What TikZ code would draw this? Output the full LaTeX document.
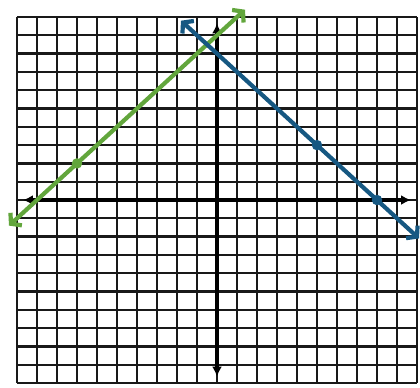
\documentclass[tikz,border=0pt]{standalone}
\usetikzlibrary{arrows.meta}
\definecolor{lgreen}{RGB}{98,166,60}
\definecolor{lblue}{RGB}{22,88,130}
\begin{document}
\begin{tikzpicture}[x=20pt,y=18.3pt,
  gridline/.style={line width=2.3pt, black!90},
  axisline/.style={line width=3.6pt, black, {Latex[length=10pt,width=10pt]}-{Latex[length=10pt,width=10pt]}},
  graphline/.style={line width=4.2pt, line cap=round, {Straight Barb[length=7pt,width=17pt]}-{Straight Barb[length=7pt,width=17pt]}},
  ptdot/.style={circle, fill, inner sep=0pt, minimum size=10.5pt}]
\useasboundingbox (-10.85,-10.22) rectangle (10.15,10.93);
\fill[white] (-10.85,-10.22) rectangle (10.15,10.93);
\foreach \i in {-10,...,10} {
  \draw[gridline] (\i,-10) -- (\i,10);
  \draw[gridline] (-10,\i) -- (10,\i);
}
\coordinate (xl) at (-9.7,0);
\coordinate (xr) at (9.7,0);
\coordinate (yb) at (0,-9.65);
\coordinate (yt) at (0,9.65);
\draw[axisline] (xl) -- (xr);
\draw[axisline] (yb) -- (yt);
% green line y = x + 9
\coordinate (g1) at (-10.4,-1.4);
\coordinate (g2) at (1.4,10.4);
\draw[graphline, lgreen] (g1) -- (g2);
\node[ptdot, lgreen] (gp) at (-7,2) {};
% blue line y = -x + 8
\coordinate (b1) at (-1.8,9.8);
\coordinate (b2) at (10.1,-2.1);
\draw[graphline, lblue] (b1) -- (b2);
\node[ptdot, lblue] (bp1) at (5,3) {};
\node[ptdot, lblue] (bp2) at (8,0) {};
\end{tikzpicture}
\end{document}
